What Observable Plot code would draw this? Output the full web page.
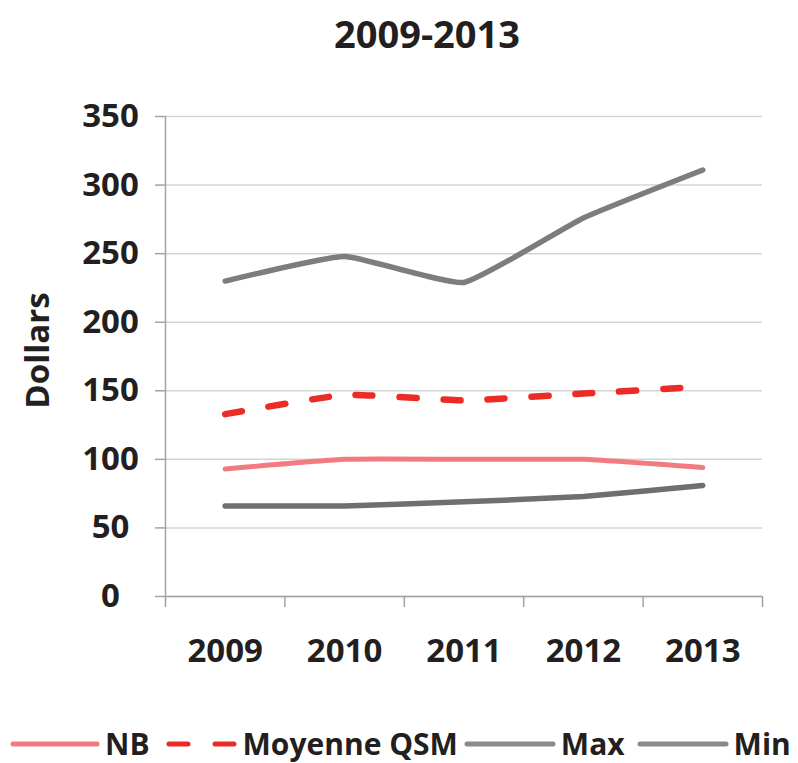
<!DOCTYPE html>
<html>
<head>
<meta charset="utf-8">
<script src="https://cdn.jsdelivr.net/npm/d3@7"></script>
<script src="https://cdn.jsdelivr.net/npm/@observablehq/plot@0.6"></script>
<style>
  body { margin: 0; background: #fff; font-family: "Open Sans", sans-serif; color: #231f20; }
  #wrap { width: 798px; height: 763px; position: relative; overflow: hidden; }
  #title { height: 66px; line-height: 66px; text-align: center; padding-left: 56px; font-weight: 700; font-size: 38px; }
  #chart svg { display: block; }
  #legend { display: flex; align-items: center; height: 63px; padding-left: 10px; padding-top: 24px; box-sizing: border-box; font-weight: 700; font-size: 30px; line-height: 1; white-space: nowrap; }
  #legend .item { display: flex; align-items: center; }
  #legend svg { display: block; }
</style>
</head>
<body>
<div id="wrap">
  <div id="title">2009-2013</div>
  <div id="chart"></div>
  <div id="legend"></div>
</div>
<script>
const years = [2009, 2010, 2011, 2012, 2013];
const seriesNames = ["NB", "Moyenne QSM", "Max", "Min"];
const nb = [93, 100, 100, 100, 94];
const moyenne = [133, 147, 143, 148, 153];
const maxVals = [230, 248, 229, 276, 311];
const minVals = [66, 66, 69, 73, 81];
const yTicks = [0, 50, 100, 150, 200, 250, 300, 350];
const yLabel = "Dollars";
const chartTitle = "2009-2013";

const valuesBySeries = [nb, moyenne, maxVals, minVals];
const styles = {
  "NB": {stroke: "#f27b80", strokeWidth: 5, dash: null, legendW: 90, gapAfter: 16},
  "Moyenne QSM": {stroke: "#ec2a26", strokeWidth: 6.5, dash: "17,27", legendW: 72, gapAfter: 6},
  "Max": {stroke: "#7d7d7d", strokeWidth: 5.5, dash: null, legendW: 92, gapAfter: 12},
  "Min": {stroke: "#6f6f6f", strokeWidth: 5.5, dash: null, legendW: 92, gapAfter: 0}
};

const table = [];
seriesNames.forEach((s, i) => {
  years.forEach((y, j) => table.push({series: s, year: y, value: valuesBySeries[i][j]}));
});

document.getElementById("title").textContent = chartTitle;

const bounds = years.map(y => y - 0.5).concat([years[years.length - 1] + 0.5]);
const axisColor = "#a3a3a3";

const lineMarks = seriesNames.map(s => Plot.line(table.filter(d => d.series === s), {
  x: "year", y: "value",
  stroke: styles[s].stroke,
  strokeWidth: styles[s].strokeWidth,
  strokeDasharray: styles[s].dash,
  strokeLinecap: "round",
  strokeLinejoin: "round",
  curve: d3.curveCardinal.tension(0.6)
}));

const chart = Plot.plot({
  width: 798,
  height: 634,
  marginLeft: 165,
  marginRight: 36,
  marginTop: 50,
  marginBottom: 104,
  style: {fontFamily: "'Open Sans', sans-serif", fontWeight: 700, fontSize: "33px", color: "#231f20", background: "#fff"},
  x: {domain: [bounds[0], bounds[bounds.length - 1]]},
  y: {domain: [0, 350]},
  marks: [
    Plot.gridY(yTicks, {stroke: "#d4d4d4", strokeOpacity: 1, strokeWidth: 1.5}),
    Plot.ruleY([0], {stroke: axisColor, strokeWidth: 1.5}),
    Plot.ruleX([bounds[0]], {stroke: axisColor, strokeWidth: 1.5}),
    Plot.axisY(yTicks, {tickSize: 10, tickPadding: 45, textAnchor: "middle", label: null, stroke: axisColor, strokeWidth: 1.5, strokeOpacity: 1, fill: "#231f20", fontSize: 33}),
    Plot.axisX(bounds, {tickSize: 11, tickFormat: () => "", label: null, stroke: axisColor, strokeWidth: 1.5, strokeOpacity: 1}),
    Plot.axisX(years, {tickSize: 0, tickPadding: 42, tickFormat: d => String(d), label: null, fill: "#231f20", fontSize: 33}),
    ...lineMarks,
    Plot.text([yLabel], {frameAnchor: "left", rotate: -90, dx: -127, dy: -6, textAnchor: "middle", fontSize: 33, fontWeight: 700, fill: "#231f20"})
  ]
});
document.getElementById("chart").appendChild(chart);

const legend = document.getElementById("legend");
seriesNames.forEach(s => {
  const st = styles[s];
  const item = document.createElement("div");
  item.className = "item";
  item.style.marginRight = st.gapAfter + "px";
  const sw = document.createElementNS("http://www.w3.org/2000/svg", "svg");
  sw.setAttribute("width", st.legendW);
  sw.setAttribute("height", 12);
  sw.style.marginRight = "5px";
  const ln = document.createElementNS("http://www.w3.org/2000/svg", "line");
  ln.setAttribute("x1", 3); ln.setAttribute("x2", st.legendW - 3);
  ln.setAttribute("y1", 6); ln.setAttribute("y2", 6);
  ln.setAttribute("stroke", s === "Max" || s === "Min" ? "#8a8a8a" : st.stroke);
  ln.setAttribute("stroke-width", 5);
  ln.setAttribute("stroke-linecap", "round");
  if (st.dash) ln.setAttribute("stroke-dasharray", "19,27");
  sw.appendChild(ln);
  const label = document.createElement("span");
  label.textContent = s;
  item.appendChild(sw);
  item.appendChild(label);
  legend.appendChild(item);
});
</script>
</body>
</html>
